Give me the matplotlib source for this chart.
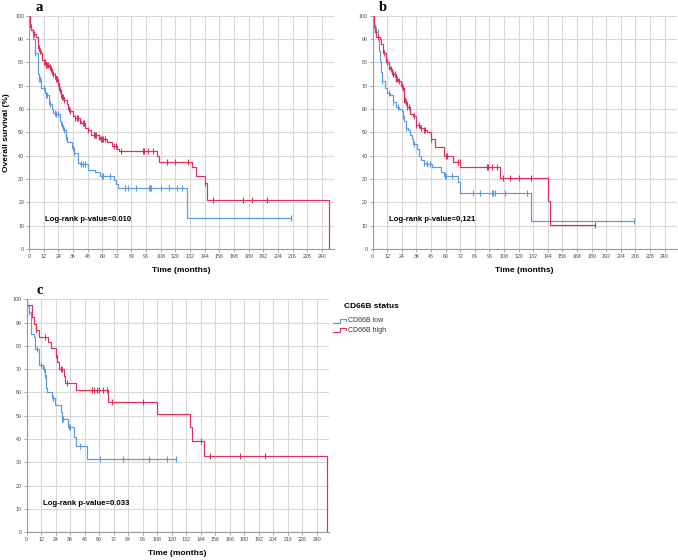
import numpy as np
import matplotlib
matplotlib.use('Agg')
import matplotlib.pyplot as plt
from matplotlib.lines import Line2D

plt.rcParams['font.family'] = ['Liberation Sans', 'DejaVu Sans']

# Panel a - step times (months) and survival (%) after each step
a_low_t = [0, 0.5, 1, 2, 3.5, 4.9, 7.1, 8, 10, 13, 14, 16.7, 19, 20, 22, 25, 26, 28, 30, 31,
           35, 37, 40, 42, 48, 54, 58, 69.6, 71.3, 73, 129.7]
a_low_s = [100, 97, 95, 94, 90, 84, 75, 73, 69, 67, 66, 62, 60, 58.5, 58, 55, 53, 51, 48, 46,
           43.5, 41, 37, 36.5, 34, 33, 31.3, 29.6, 28, 26, 13.1]
a_low_end = 214.4
a_low_cens = [1.5, 5, 8, 9, 12, 14, 15, 17, 21, 22, 24, 27, 29, 30, 36, 37, 43, 44, 46, 60, 61, 66,
              78.6, 80.8, 87.6, 98.3, 99.1, 99.9, 108.1, 114.9, 121.5, 125.1, 214.4]

a_high_t = [0, 0.5, 1, 2, 3, 4, 5.5, 7, 8.5, 10, 10.6, 12, 14, 16, 18, 19, 20, 21, 22, 24,
            24.8, 26, 27, 29, 31, 32, 34, 36, 38, 42, 43, 46, 48, 51, 57, 58, 64, 68, 72, 74,
            104.6, 106.8, 133.5, 136.5, 144.2, 146.1, 246]
a_high_s = [100, 96, 95, 94, 93, 92, 91, 86, 85, 84, 81, 80, 79, 78, 77, 76, 75, 74, 73, 71,
            68, 66, 65, 64, 62, 60, 59, 57, 56, 55, 54, 52, 51, 49, 48, 47, 46, 44, 43, 42,
            40, 37.5, 35.3, 31.3, 28.4, 21, 0]
a_high_end = 246
a_high_cens = [1.5, 3, 4.5, 8, 9, 12, 13, 14, 15, 15.5, 17, 17.5, 18, 19, 20, 21, 22, 23, 24, 25,
               25.5, 26, 27, 28, 29, 33, 34, 38, 39, 40, 42, 44, 45, 48, 53, 54, 55, 57, 59, 60,
               61, 62, 70, 71, 75.1, 93.1, 94.4, 97.7, 101.3, 112.8, 119.6, 130, 144.2,
               150.5, 175, 182.9, 195.2]

# Panel b
b_low_t = [0, 1, 3, 4.3, 5.5, 6, 7, 8, 10, 12, 14, 17, 19, 22, 24, 25, 26, 27, 29, 31,
           32, 33, 36.5, 38, 40, 42, 44, 49, 56, 59, 70, 72, 130]
b_low_s = [100, 95, 93, 90, 85, 80, 76, 72, 69, 67, 66, 63, 61, 60, 59, 57, 55, 52, 51, 49,
           47, 45, 43, 40, 38, 37, 36.5, 35, 33, 31.3, 28.9, 24.1, 12.1]
b_low_end = 215
b_low_cens = [2, 4, 8, 13, 17, 21, 25, 27, 34, 42, 45, 47, 59.1, 60.5, 65.4,
              82.3, 88.6, 98.2, 99.2, 100.9, 108.8, 126.5, 215]

b_high_t = [0, 1, 2, 3, 6, 7, 8.2, 10.9, 13, 14, 16, 17, 19, 21, 23, 25, 26, 27, 28, 31,
            33, 35.5, 39, 42, 45, 48, 51.3, 58.3, 66, 72, 105, 144.2, 145.9]
b_high_s = [100, 95, 94, 91, 90, 88, 84, 80, 78, 77, 76, 75, 73, 72, 70, 69, 64, 63, 61, 58,
            57, 53, 52, 51, 50, 47, 43.6, 39.9, 37.4, 35, 30.3, 20.6, 10.3]
b_high_end = 183.2
b_high_cens = [0.5, 2, 4, 9, 12, 13, 15, 16, 17, 18, 19, 20, 22, 24, 25, 26, 26.5, 27, 28, 30,
               34, 36, 38, 40, 42, 43, 48, 60, 61, 70, 71.4, 93.7, 94.6, 98.2, 101.9, 106.8,
               113.1, 120.5, 130, 183.2]

# Panel c
c_low_t = [0, 0.3, 1.5, 3.6, 6, 7.2, 10.5, 13.5, 15.4, 16, 16.5, 20.7, 23.7, 28.4, 29.2,
           33.9, 39.2, 40.8, 49.7]
c_low_s = [100, 97, 94.5, 85, 84, 78.5, 72, 70, 67.5, 62, 60, 57.5, 54.5, 51.5, 48.5,
           45, 41, 37, 31.5]
c_low_end = 123.3
c_low_cens = [2, 8.5, 11.5, 14, 15.5, 21.5, 29.5, 30, 35, 36, 44, 60.7, 80, 101.2, 115.9, 123.3]

c_high_t = [0, 0.5, 4.4, 6.3, 7.7, 9.9, 17.9, 19.9, 24, 25, 27, 30.6, 32, 41, 67.5,
            108.1, 135.4, 136.8, 146.7, 248.5]
c_high_s = [100, 97.5, 92.5, 89.5, 87, 84, 81.5, 79, 76, 73, 70, 67, 64, 61, 56,
            50.8, 45.1, 39.3, 32.7, 0]
c_high_end = 248.5
c_high_cens = [0.5, 8, 15, 24, 28.5, 29.5, 33, 54, 55.5, 58, 59.5, 63.5, 66.5, 70.6, 96.5,
               144.6, 151.7, 176.5, 197.2]

pvals = ['Log-rank p-value=0.010', 'Log-rank p-value=0,121', 'Log-rank p-value=0.033']
letters = ['a', 'b', 'c']
group_names = ['CD66B low', 'CD66B high']

BLUE = '#5a9be3'
RED = '#e0305a'
W, H = 678, 560


def km(ax, t, s, end, cens, color):
    t = np.asarray(t, float)
    s = np.asarray(s, float)
    xs = np.append(t, end)
    ys = np.append(s, s[-1])
    ax.step(xs, ys, where='post', color=color, lw=0.85)
    c = np.asarray(cens, float)
    idx = np.searchsorted(t, c, side='right') - 1
    ax.plot(c, s[idx], ls='none', marker='|', ms=4.5, mew=0.8, color=color)


def setup(ax, letter, pval, ylabel, lx):
    ax.set_xlim(0, 250)
    ax.set_ylim(0, 100)
    ax.set_xticks(np.arange(0, 241, 12))
    ax.set_yticks(np.arange(0, 101, 10))
    ax.grid(True, color='#d8d8d8', lw=0.8)
    ax.set_axisbelow(True)
    for sp in ['top', 'right']:
        ax.spines[sp].set_visible(False)
    for sp in ['left', 'bottom']:
        ax.spines[sp].set_color('#9a9a9a')
        ax.spines[sp].set_linewidth(0.8)
    ax.tick_params(labelsize=3.8, labelcolor='#444444', length=2, width=0.6,
                   color='#9a9a9a', pad=1.5)
    ax.set_xlabel('Time (months)', fontsize=6, fontweight='bold', labelpad=6)
    if ylabel:
        ax.set_ylabel('Overall survival (%)', fontsize=6, fontweight='bold', labelpad=4)
    ax.text(13.5, 12.5, pval, fontsize=5.6, fontweight='bold', va='center', ha='left')
    ax.text(lx, 1.036, letter, transform=ax.transAxes, fontsize=10.5, fontweight='bold',
            family='Liberation Serif', ha='center', va='center')


fig = plt.figure(figsize=(6.78, 5.6), dpi=100)

ax_a = fig.add_axes([29 / W, 1 - 249 / H, 305 / W, 233.3 / H])
ax_b = fig.add_axes([372.7 / W, 1 - 249 / H, 304 / W, 233.3 / H])
ax_c = fig.add_axes([26.7 / W, 1 - 532.3 / H, 302 / W, 233 / H])

km(ax_a, a_low_t, a_low_s, a_low_end, a_low_cens, BLUE)
km(ax_a, a_high_t, a_high_s, a_high_end, a_high_cens, RED)
km(ax_b, b_low_t, b_low_s, b_low_end, b_low_cens, BLUE)
km(ax_b, b_high_t, b_high_s, b_high_end, b_high_cens, RED)
km(ax_c, c_low_t, c_low_s, c_low_end, c_low_cens, BLUE)
km(ax_c, c_high_t, c_high_s, c_high_end, c_high_cens, RED)

setup(ax_a, letters[0], pvals[0], True, 0.033)
setup(ax_b, letters[1], pvals[1], False, 0.035)
setup(ax_c, letters[2], pvals[2], False, 0.042)

# legend (SPSS style, outside the plots)
fig.text(344 / W, 1 - 307 / H, 'CD66B status', fontsize=6, fontweight='bold',
         va='center', ha='left')
for i, (name, col) in enumerate(zip(group_names, [BLUE, RED])):
    y = 320.7 + i * 9.3
    xs = np.array([333, 340, 340, 346, 346]) / W
    ys = 1 - np.array([y + 2, y + 2, y - 2, y - 2, y]) / H
    fig.add_artist(Line2D(xs, ys, color=col, lw=0.8, transform=fig.transFigure))
    fig.text(348.3 / W, 1 - y / H, name, fontsize=5, color='#333333', va='center', ha='left')

fig.savefig('out.png', dpi=100)
